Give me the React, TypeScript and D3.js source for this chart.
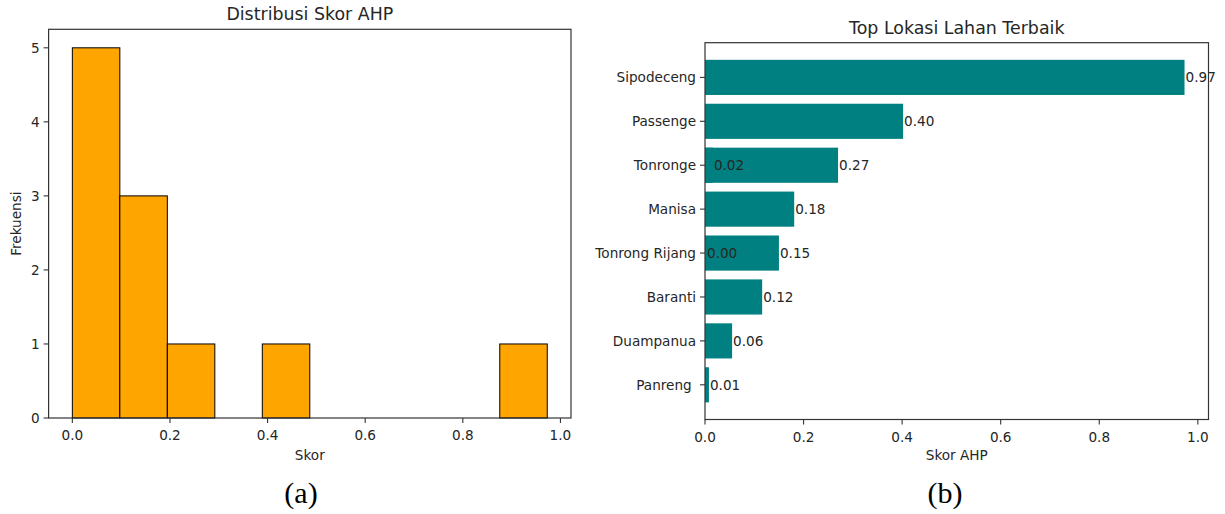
import React from 'react';
import * as d3 from 'd3';

// histogram (a): counts per bin, 10 equal bins between min and max score
const histCounts = [5, 3, 1, 0, 1, 0, 0, 0, 0, 1];
const histMin = 0.0;
const histMax = 0.973;
const histTicksX = [0, 0.2, 0.4, 0.6, 0.8, 1.0];
const histTicksY = [0, 1, 2, 3, 4, 5];

// bar chart (b): top locations, top to bottom
const locations = ['Sipodeceng', 'Passenge', 'Tonronge', 'Manisa', 'Tonrong Rijang', 'Baranti', 'Duampanua', 'Panreng '];
const scores = [0.973, 0.402, 0.27, 0.181, 0.15, 0.116, 0.055, 0.008];
// duplicated names drawn on same row (hidden bars, only their labels show)
const extraLocations = ['Tonronge', 'Tonrong Rijang'];
const extraScores = [0.016, 0.002];
const barTicksX = [0, 0.2, 0.4, 0.6, 0.8, 1.0];

const W = 1225;
const H = 514;
const FONT = '"DejaVu Sans", sans-serif';
const TXT = '#262626';
const FS = 13.6;
const TITLE_FS = 17.4;

const Histogram: React.FC = () => {
  const left = 48.6, right = 571, top = 29.3, bottom = 418;
  const binW = (histMax - histMin) / histCounts.length;
  const pad = (histMax - histMin) * 0.05;
  const x = d3.scaleLinear().domain([histMin - pad, histMax + pad]).range([left, right]);
  const maxC = d3.max(histCounts) as number;
  const y = d3.scaleLinear().domain([0, maxC * 1.05]).range([bottom, top]);
  return (
    <g>
      <text x={(left + right) / 2} y={top - 9} textAnchor="middle" fontSize={TITLE_FS} fill={TXT}>Distribusi Skor AHP</text>
      {histCounts.map((c, i) => c > 0 && (
        <rect key={i}
              x={x(histMin + i * binW)}
              width={x(histMin + (i + 1) * binW) - x(histMin + i * binW)}
              y={y(c)}
              height={y(0) - y(c)}
              fill="#FFA500" stroke="#000" strokeWidth={1}/>
      ))}
      <rect x={left} y={top} width={right - left} height={bottom - top} fill="none" stroke="#333" strokeWidth={1.2}/>
      {histTicksX.map(t => (
        <g key={t} transform={`translate(${x(t)},${bottom})`}>
          <line y2={5} stroke="#333" strokeWidth={1.1}/>
          <text y={22} textAnchor="middle" fontSize={FS} fill={TXT}>{t.toFixed(1)}</text>
        </g>
      ))}
      {histTicksY.map(t => (
        <g key={t} transform={`translate(${left},${y(t)})`}>
          <line x2={-5} stroke="#333" strokeWidth={1.1}/>
          <text x={-9} dy="0.35em" textAnchor="end" fontSize={FS} fill={TXT}>{t}</text>
        </g>
      ))}
      <text x={(left + right) / 2} y={460} textAnchor="middle" fontSize={FS} fill={TXT}>Skor</text>
      <text transform={`translate(21,${(top + bottom) / 2}) rotate(-90)`} textAnchor="middle" fontSize={FS} fill={TXT}>Frekuensi</text>
    </g>
  );
};

const TopBars: React.FC = () => {
  const left = 705, right = 1208.5, top = 42.7, bottom = 419.5;
  const maxS = d3.max(scores) as number;
  const x = d3.scaleLinear().domain([0, maxS * 1.05]).range([left, right]);
  const n = locations.length;
  // matplotlib-like positions: bottom row is 0, top row n-1
  const y = d3.scaleLinear().domain([-0.4 - 0.39, n - 1 + 0.4 + 0.39]).range([bottom, top]);
  const rowY = (name: string) => y(n - 1 - locations.indexOf(name));
  const bh = y(0) - y(0.8);
  return (
    <g>
      <text x={(left + right) / 2} y={top - 9} textAnchor="middle" fontSize={TITLE_FS} fill={TXT}>Top Lokasi Lahan Terbaik</text>
      {locations.map((name, i) => (
        <rect key={name} x={x(0)} y={rowY(name) - bh / 2} width={x(scores[i]) - x(0)} height={bh} fill="#008080"/>
      ))}
      {extraLocations.map((name, i) => (
        <rect key={'e' + name} x={x(0)} y={rowY(name) - bh / 2} width={x(extraScores[i]) - x(0)} height={bh} fill="#008080"/>
      ))}
      {locations.map((name, i) => (
        <text key={'l' + name} x={x(scores[i]) + 1} y={rowY(name)} dy="0.35em" fontSize={FS} fill={TXT}>{scores[i].toFixed(2)}</text>
      ))}
      {extraLocations.map((name, i) => (
        <text key={'le' + name} x={x(extraScores[i]) + 1} y={rowY(name)} dy="0.35em" fontSize={FS} fill={TXT}>{extraScores[i].toFixed(2)}</text>
      ))}
      <rect x={left} y={top} width={right - left} height={bottom - top} fill="none" stroke="#333" strokeWidth={1.2}/>
      {locations.map(name => (
        <g key={'t' + name} transform={`translate(${left},${rowY(name)})`}>
          <line x2={-5} stroke="#333" strokeWidth={1.1}/>
          <text x={-9} dy="0.35em" textAnchor="end" fontSize={FS} fill={TXT} style={{whiteSpace: 'pre'}}>{name}</text>
        </g>
      ))}
      {barTicksX.map(t => (
        <g key={t} transform={`translate(${x(t)},${bottom})`}>
          <line y2={5} stroke="#333" strokeWidth={1.1}/>
          <text y={22} textAnchor="middle" fontSize={FS} fill={TXT}>{t.toFixed(1)}</text>
        </g>
      ))}
      <text x={(left + right) / 2} y={460} textAnchor="middle" fontSize={FS} fill={TXT}>Skor AHP</text>
    </g>
  );
};

export default function App() {
  return (
    <svg width={W} height={H} style={{position: 'absolute', left: 0, top: 0, background: '#fff'}}
         fontFamily={FONT}>
      <rect width={W} height={H} fill="#fff"/>
      <Histogram/>
      <TopBars/>
      <text x={301} y={503} textAnchor="middle" fontFamily='"Liberation Serif", serif' fontSize={30} fill="#000">(a)</text>
      <text x={945} y={503} textAnchor="middle" fontFamily='"Liberation Serif", serif' fontSize={30} fill="#000">(b)</text>
    </svg>
  );
}
